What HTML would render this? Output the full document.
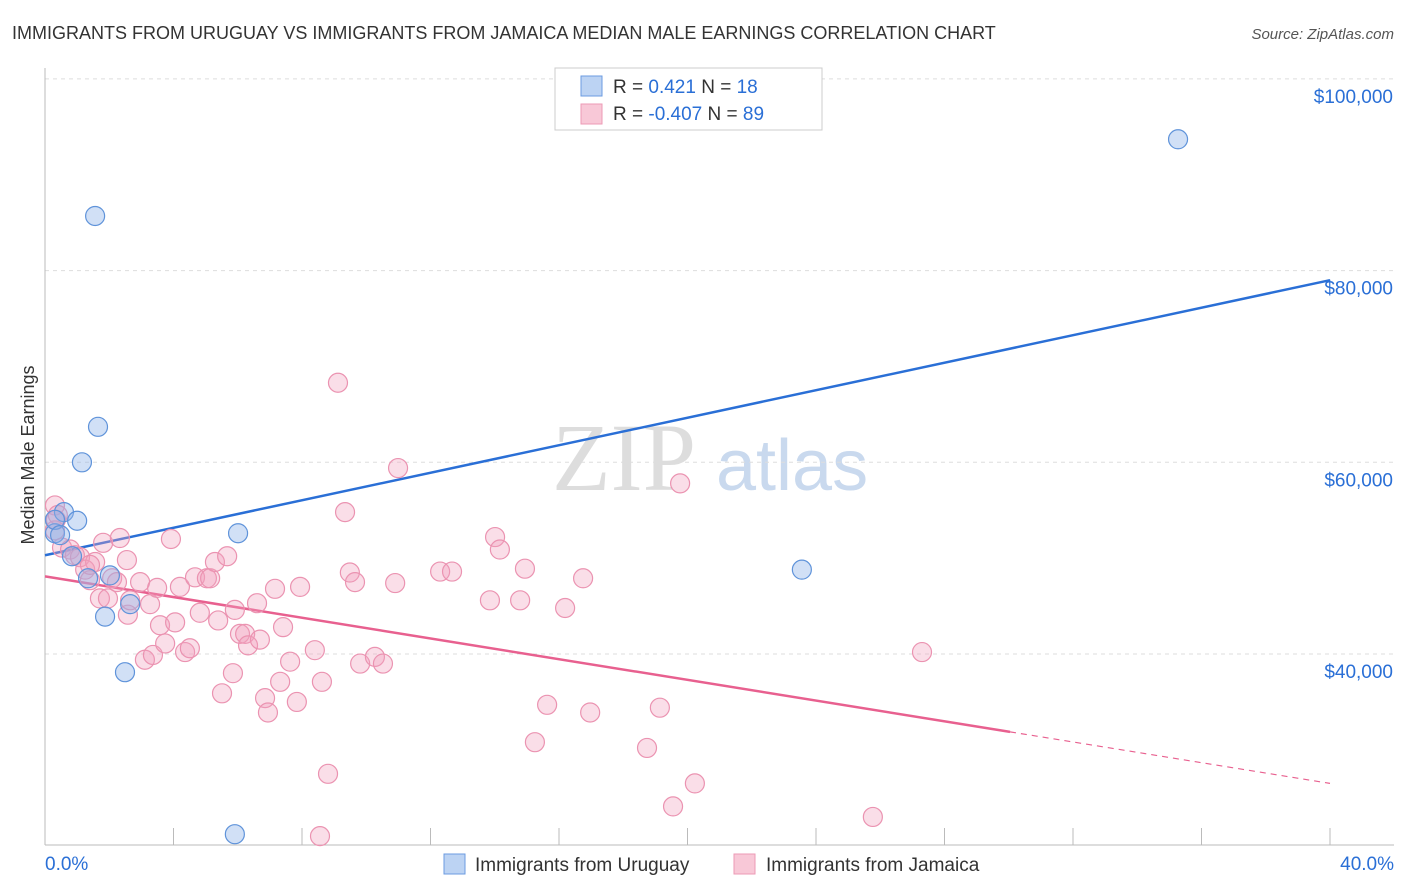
<!DOCTYPE html>
<html><head><meta charset="utf-8"><style>
body{margin:0;background:#fff;font-family:"Liberation Sans",sans-serif;}
svg{display:block}
</style></head><body>
<svg id="chart" width="1406" height="892">
<text x="12" y="39" font-size="18" fill="#333">IMMIGRANTS FROM URUGUAY VS IMMIGRANTS FROM JAMAICA MEDIAN MALE EARNINGS CORRELATION CHART</text>
<text x="1394" y="39" font-size="15" fill="#555" font-style="italic" text-anchor="end">Source: ZipAtlas.com</text>
<text x="34" y="455" font-size="18" fill="#333" transform="rotate(-90 34 455)" text-anchor="middle">Median Male Earnings</text>
<g>
<text x="552" y="490" font-size="96" font-family="Liberation Serif,serif" fill="#ddd">ZIP</text>
<text x="716" y="490" font-size="72" fill="#c9d9ee">atlas</text>
</g>
<g id="grid"></g><g id="axes"></g><g id="lines"></g><g id="pts"></g>
<g>
<rect x="555" y="68" width="267" height="62" fill="#fff" stroke="#ccc"/>
<rect x="581" y="76" width="21" height="20" fill="#bcd3f3" stroke="#6b9be0"/>
<rect x="581" y="104" width="21" height="20" fill="#f8c8d7" stroke="#ec9ab5"/>
<text x="613" y="93" font-size="19" fill="#333">R = <tspan fill="#2a6fd6">  0.421</tspan>   N = <tspan fill="#2a6fd6"> 18</tspan></text>
<text x="613" y="120" font-size="19" fill="#333">R = <tspan fill="#2a6fd6">-0.407</tspan>   N = <tspan fill="#2a6fd6">89</tspan></text>
</g>
<g>
<rect x="444" y="854" width="21" height="20" fill="#bcd3f3" stroke="#6b9be0"/>
<text x="475" y="871" font-size="19" fill="#333">Immigrants from Uruguay</text>
<rect x="734" y="854" width="21" height="20" fill="#f8c8d7" stroke="#ec9ab5"/>
<text x="766" y="871" font-size="19" fill="#333">Immigrants from Jamaica</text>
</g>
</svg>
<script>
const yTicks=[40000,60000,80000,100000];
const yTickLabels=["$40,000","$60,000","$80,000","$100,000"];
const xTickLabels=["0.0%","40.0%"];
const uruguayX=[1.56,1.65,1.15,0.59,1.0,0.31,0.31,0.84,1.34,2.02,1.87,2.65,2.49,6.01,5.91,23.56,35.27,0.47];
const uruguayY=[85.7,63.7,60.0,54.8,53.9,52.6,54.0,50.2,47.9,48.2,43.9,45.2,38.1,52.6,21.2,48.8,93.7,52.4];
const jamaicaX=[0.31,0.31,0.40,0.53,0.78,0.93,1.09,1.25,1.40,1.56,1.71,1.81,1.96,2.09,2.24,2.33,2.55,2.58,2.65,2.96,3.11,3.27,3.36,3.49,3.58,3.74,3.92,4.05,4.20,4.36,4.51,4.67,4.82,5.04,5.14,5.29,5.39,5.51,5.67,5.85,5.91,6.07,6.23,6.32,6.60,6.69,6.85,6.94,7.16,7.32,7.41,7.63,7.84,7.94,8.40,8.62,8.81,8.56,9.12,9.34,9.49,9.65,9.81,10.27,10.52,10.90,10.99,12.30,12.67,13.85,14.01,14.16,14.79,14.94,15.25,15.63,16.19,16.75,16.97,18.74,19.14,19.55,19.77,20.23,25.77,27.30,0.34,1.40];
const jamaicaY=[55.5,52.9,54.5,51.1,50.9,50.3,50.1,48.8,47.7,49.6,45.8,51.6,45.8,47.9,47.5,52.1,49.8,44.1,45.6,47.5,39.4,45.2,39.9,46.9,43.0,41.1,52.0,43.3,47.0,40.2,40.6,48.0,44.3,47.9,47.9,49.6,43.5,35.9,50.2,38.0,44.6,42.1,42.1,40.9,45.3,41.5,35.4,33.9,46.8,37.1,42.8,39.2,35.0,47.0,40.4,37.1,27.5,21.0,68.3,54.8,48.5,47.5,39.0,39.7,39.0,47.4,59.4,48.6,48.6,45.6,52.2,50.9,45.6,48.9,30.8,34.7,44.8,47.9,33.9,30.2,34.4,24.1,57.8,26.5,23.0,40.2,54.0,49.3];
const uruguayTrend=[50.3,79.0];   // y (thousands) at x=0 and x=40
const jamaicaTrend=[48.1,26.5];   // y at x=0 and x=40
const jamaicaSolidEnd=30.04;
const NS="http://www.w3.org/2000/svg";
const X=v=>45+v/40*1285;
const Y=v=>654-(v-40)*9.585; // v in thousands
function mk(p,t,a){const e=document.createElementNS(NS,t);for(const k in a)e.setAttribute(k,a[k]);document.getElementById(p).appendChild(e);return e;}
yTicks.forEach((t,i)=>{
 const y=Y(t/1000);
 const g=mk('grid','line',{x1:45,x2:1394,y1:y,y2:y,stroke:'#ddd','stroke-dasharray':'4 4'});
 
 
 const l=mk('grid','text',{x:1393,y:y+24,'font-size':19,fill:'#2a6fd6','text-anchor':'end'});
 l.textContent=yTickLabels[i];
 
 
});
const ax=mk('axes','line',{x1:45,x2:45,y1:68,y2:845,stroke:'#bbb'});


const bx=mk('axes','line',{x1:45,x2:1394,y1:845,y2:845,stroke:'#bbb'});


for(let i=0;i<=10;i++){const t=mk('axes','line',{x1:X(i*4),x2:X(i*4),y1:828,y2:845,stroke:'#bbb'});
 
 }
[[0,'start',45],[1,'end',1394]].forEach(([i,a,x])=>{const t=mk('axes','text',{x:x,y:870,'font-size':19,fill:'#2a6fd6','text-anchor':a});t.textContent=xTickLabels[i];
 
 });
const bl=mk('lines','line',{x1:X(0),y1:Y(uruguayTrend[0]),x2:X(40),y2:Y(uruguayTrend[1]),stroke:'#2a6fd6','stroke-width':2.5});


const pe=jamaicaTrend[0]+(jamaicaTrend[1]-jamaicaTrend[0])*jamaicaSolidEnd/40;
const pl=mk('lines','line',{x1:X(0),y1:Y(jamaicaTrend[0]),x2:X(jamaicaSolidEnd),y2:Y(pe),stroke:'#e8608f','stroke-width':2.5});


const pd=mk('lines','line',{x1:X(jamaicaSolidEnd),y1:Y(pe),x2:X(40),y2:Y(jamaicaTrend[1]),stroke:'#e8608f','stroke-width':1.2,'stroke-dasharray':'6 5'});


jamaicaX.forEach((x,i)=>{const c=mk('pts','circle',{cx:X(x),cy:Y(jamaicaY[i]),r:9.5,fill:'rgba(242,160,188,0.35)',stroke:'#eb93b1','stroke-width':1.2});
 
 });
uruguayX.forEach((x,i)=>{const c=mk('pts','circle',{cx:X(x),cy:Y(uruguayY[i]),r:9.5,fill:'rgba(140,178,232,0.4)',stroke:'#5f93da','stroke-width':1.2});
 
 });
</script>
</body></html>
